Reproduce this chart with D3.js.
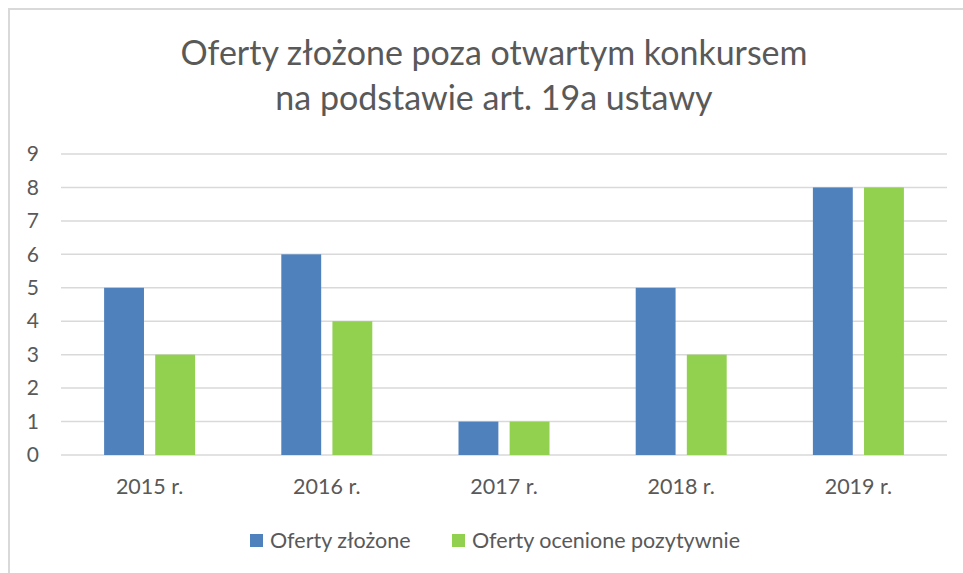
<!DOCTYPE html>
<html>
<head>
<meta charset="utf-8">
<script src="https://cdn.jsdelivr.net/npm/d3@7"></script>
<style>
  body { margin: 0; background: #fff; }
  text { font-family: Lato, "Open Sans", sans-serif; fill: #595959; }
</style>
</head>
<body>
<div id="chart"></div>
<script>
// data
var categories = ["2015 r.", "2016 r.", "2017 r.", "2018 r.", "2019 r."];
var seriesNames = ["Oferty złożone", "Oferty ocenione pozytywnie"];
var zlozone = [5, 6, 1, 5, 8];
var ocenione = [3, 4, 1, 3, 8];
var yTicks = [0, 1, 2, 3, 4, 5, 6, 7, 8, 9];
var titleLines = ["Oferty złożone poza otwartym konkursem", "na podstawie art. 19a ustawy"];

var colors = ["#4f81bd", "#92d050"];

const width = 963;
const height = 573;
const plotLeft = 61, plotRight = 947, plotTop = 154, plotBottom = 455;

var rows = categories.map(function(c, i) {
  return { cat: c, values: [zlozone[i], ocenione[i]] };
});

var svg = d3.select("#chart").append("svg")
  .attr("width", width)
  .attr("height", height);

// chart frame (only top and left edges show)
svg.append("path")
  .attr("d", "M9,573 V9 H963")
  .attr("fill", "none")
  .attr("stroke", "#d9d9d9")
  .attr("stroke-width", 2);

/* Title */
svg.append("g").selectAll("text")
  .data(titleLines).enter()
  .append("text")
  .attr("x", 494)
  .attr("y", (d, i) => 65 + i * 45)
  .attr("text-anchor", "middle")
  .style("font-size", "34px")
  .text(d => d);

/* Scales */
var x0 = d3.scaleBand()
  .domain(categories)
  .range([plotLeft, plotRight]);

var groupW = 91;
var x1 = d3.scaleBand()
  .domain(d3.range(seriesNames.length))
  .range([x0.bandwidth() / 2 - groupW / 2, x0.bandwidth() / 2 + groupW / 2])
  .paddingInner(0.22);

var y = d3.scaleLinear()
  .domain([0, 9])
  .range([plotBottom, plotTop]);

/* Gridlines */
svg.append("g")
  .selectAll("line")
  .data(yTicks).enter()
  .append("line")
  .attr("x1", plotLeft)
  .attr("x2", plotRight)
  .attr("y1", d => y(d))
  .attr("y2", d => y(d))
  .attr("stroke", "#d9d9d9")
  .attr("stroke-width", 1.5);

/* Y axis labels */
var yAxis = d3.axisLeft(y).tickValues(yTicks).tickSize(0).tickPadding(0);
var gy = svg.append("g")
  .attr("transform", `translate(39,0)`)
  .call(yAxis);
gy.select(".domain").remove();
gy.selectAll("text")
  .style("font-size", "21px")
  .style("fill", "#595959")
  .attr("font-family", null);

/* Bars */
svg.append("g")
  .selectAll("g")
  .data(rows).enter()
  .append("g")
  .attr("transform", d => `translate(${x0(d.cat)},0)`)
  .selectAll("rect")
  .data(d => d.values).enter()
  .append("rect")
  .attr("x", (d, i) => x1(i))
  .attr("width", x1.bandwidth())
  .attr("y", d => y(d))
  .attr("height", d => y(0) - y(d))
  .attr("fill", (d, i) => colors[i]);

/* X axis labels */
var xAxis = d3.axisBottom(x0).tickSize(0).tickPadding(0);
var gx = svg.append("g")
  .attr("transform", `translate(0,${plotBottom})`)
  .call(xAxis);
gx.select(".domain").remove();
gx.selectAll("text")
  .attr("dy", null)
  .attr("y", 39)
  .style("font-size", "21.5px")
  .style("fill", "#595959")
  .attr("font-family", null);

/* Legend */
var legendX = [250, 452];
var legend = svg.append("g")
  .selectAll("g")
  .data(seriesNames).enter()
  .append("g")
  .attr("transform", (d, i) => `translate(${legendX[i]},534)`);

legend.append("rect")
  .attr("width", 13)
  .attr("height", 13)
  .attr("fill", (d, i) => colors[i]);

legend.append("text")
  .attr("x", 20)
  .attr("y", 14)
  .style("font-size", "21.5px")
  .text(d => d);
</script>
</body>
</html>
